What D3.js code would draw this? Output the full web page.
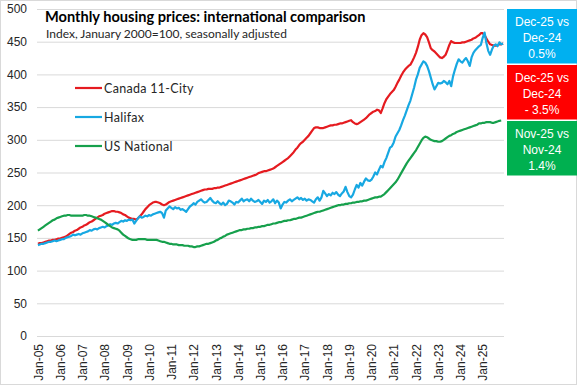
<!DOCTYPE html>
<html lang="en">
<head>
  <meta charset="UTF-8">
  <title>Monthly housing prices</title>
  <script src="https://cdn.jsdelivr.net/npm/d3@7"></script>
  <style>
    body { margin: 0; background: #fff; }
    text { font-family: "Liberation Sans", Arial, sans-serif; }
  </style>
</head>
<body>
<div id="chart"></div>
<script>
  // monthly index values, Jan-05 .. Dec-25 (one row per year)
  var canada = [
    141,142,142,143,144,145,146,146,147,147,148,149,
    149,150,151,152,154,156,158,159,161,162,164,166,
    167,169,170,172,174,175,177,179,181,183,184,185,
    187,188,189,190,191,191,190,190,189,188,186,185,
    183,181,180,179,179,178,180,183,186,190,194,197,
    200,202,204,205,205,204,203,201,200,201,203,205,
    206,207,208,209,210,211,212,213,214,215,216,217,
    218,219,220,221,222,223,224,224,225,225,225,226,
    226,227,227,228,229,230,231,232,233,234,235,236,
    237,238,239,240,241,242,243,244,245,246,247,249,
    250,251,252,252,253,254,255,256,258,260,262,264,
    266,268,270,272,275,278,281,285,288,292,295,297,
    300,303,306,310,314,318,319,319,318,318,318,319,
    320,321,322,322,323,323,324,325,325,326,327,328,
    329,330,327,325,324,325,327,329,331,333,336,339,
    341,343,344,346,345,341,348,356,362,366,370,373,
    376,381,387,392,398,403,407,410,413,415,420,426,
    433,442,453,460,463,461,457,449,440,437,435,432,
    429,426,425,427,430,437,445,451,449,448,448,448,
    448,449,449,450,451,452,453,455,456,458,460,463,
    463,460,455,450,446,445,444,444,445,446,446,447
  ];

  var halifax = [
    139,140,141,141,142,143,144,144,145,146,145,146,
    147,148,148,150,151,152,153,155,154,155,156,155,
    157,158,159,160,162,161,163,164,163,165,166,167,
    166,168,169,171,170,172,173,172,174,176,175,177,
    176,178,177,178,172,176,180,183,181,182,184,183,
    185,184,186,187,188,189,190,188,181,192,195,198,
    196,194,197,195,196,193,194,192,190,194,198,200,
    203,201,205,207,209,206,204,205,208,211,207,204,
    203,206,203,201,204,200,202,207,206,204,201,205,
    204,207,210,206,208,209,206,210,207,205,206,208,
    205,202,207,205,208,204,206,209,203,207,204,195,
    201,205,204,207,209,206,208,210,212,209,211,208,
    210,207,209,208,206,204,209,212,207,212,222,218,
    214,217,215,219,217,220,216,214,218,221,228,220,
    214,212,216,224,231,227,234,230,236,241,238,237,
    239,244,250,247,254,260,258,266,272,280,288,290,
    296,305,310,315,322,330,337,345,353,360,370,380,
    392,400,410,415,420,418,413,405,395,385,377,382,
    387,386,387,390,388,385,390,382,397,407,416,423,
    420,418,422,425,420,413,426,433,437,440,443,445,
    456,464,448,436,430,438,444,446,443,449,446,447
  ];

  // US ends Nov-25
  var usNational = [
    161,163,165,167,169,171,173,175,177,178,180,181,
    182,183,184,184,185,185,184,184,184,184,184,184,
    184,185,185,184,184,183,182,181,180,179,178,176,
    174,172,170,168,166,165,164,163,161,158,155,153,
    151,149,148,147,147,147,148,148,148,148,148,147,
    147,147,147,147,147,146,145,144,144,143,142,141,
    141,140,140,140,139,139,139,138,138,138,137,137,
    136,136,137,137,138,139,140,141,141,142,143,144,
    146,147,149,150,152,153,155,156,157,158,159,160,
    161,162,162,163,163,164,164,165,165,166,166,167,
    167,168,168,169,170,170,171,172,172,173,174,174,
    175,176,176,177,177,178,179,179,180,181,181,182,
    183,184,185,186,187,188,189,190,190,191,192,193,
    194,195,196,197,198,199,200,200,201,201,202,202,
    203,203,204,204,205,205,206,206,207,207,208,209,
    210,211,212,212,213,213,215,217,220,223,226,229,
    232,235,239,244,249,254,259,264,268,272,276,280,
    284,289,294,299,303,305,304,302,300,299,298,298,
    297,297,298,300,302,304,306,307,309,310,312,313,
    314,315,316,317,318,319,320,321,322,323,325,325,
    326,326,327,327,327,326,326,327,328,329,329.5,null
  ];

  var tickLabels = ["Jan-05","Jan-06","Jan-07","Jan-08","Jan-09","Jan-10","Jan-11",
    "Jan-12","Jan-13","Jan-14","Jan-15","Jan-16","Jan-17","Jan-18","Jan-19","Jan-20",
    "Jan-21","Jan-22","Jan-23","Jan-24","Jan-25"];
  var yTicks = [0, 50, 100, 150, 200, 250, 300, 350, 400, 450, 500];

  var seriesNames = ["Canada 11-City", "Halifax", "US National"];
  var seriesColors = ["#e51b20", "#17a8e2", "#16a04c"];

  var boxLines = [
    ["Dec-25 vs", "Dec-24", "0.5%"],
    ["Dec-25 vs", "Dec-24", "- 3.5%"],
    ["Nov-25 vs", "Nov-24", "1.4%"]
  ];
  var boxColors = ["#00b0f0", "#ff0000", "#00b050"];

  var W = 577, H = 385;
  var plot = { left: 37, right: 504, top: 9, bottom: 336 };

  var svg = d3.select("#chart").append("svg")
    .attr("width", W)
    .attr("height", H);

  svg.append("rect")
    .attr("x", 0.5).attr("y", 0.5)
    .attr("width", W - 1).attr("height", H - 1)
    .attr("fill", "#fff")
    .attr("stroke", "#d9d9d9");

  var x = d3.scaleBand()
    .domain(d3.range(canada.length))
    .range([plot.left, plot.right]);
  var xc = function(i) { return x(i) + x.bandwidth() / 2; };

  var y = d3.scaleLinear()
    .domain([0, 500])
    .range([plot.bottom, plot.top]);

  // y axis + gridlines
  var yAxis = svg.append("g")
    .attr("transform", "translate(" + plot.left + ",0)")
    .call(d3.axisLeft(y)
      .tickValues(yTicks)
      .tickSize(-(plot.right - plot.left))
      .tickPadding(10));
  yAxis.select(".domain").remove();
  yAxis.selectAll(".tick line").attr("stroke", "#d9d9d9");
  yAxis.selectAll(".tick text")
    .attr("fill", "#262626")
    .style("font-size", "12px");

  // x axis labels, every January
  var janIdx = tickLabels.map(function(d, i) { return i * 12; });
  var xAxis = svg.append("g")
    .attr("transform", "translate(0," + plot.bottom + ")")
    .call(d3.axisBottom(d3.scalePoint().domain(janIdx).range([xc(0), xc(240)]))
      .tickSize(0)
      .tickFormat(function(d, i) { return tickLabels[i]; }));
  xAxis.select(".domain").remove();
  xAxis.selectAll(".tick text")
    .attr("transform", "rotate(-90)")
    .attr("x", -8)
    .attr("y", 0)
    .attr("dy", "0.35em")
    .attr("text-anchor", "end")
    .attr("fill", "#262626")
    .style("font-size", "12px");

  // lines
  var line = d3.line()
    .defined(function(d) { return d != null; })
    .x(function(d, i) { return xc(i); })
    .y(function(d) { return y(d); });

  [canada, halifax, usNational].forEach(function(s, k) {
    svg.append("path")
      .datum(s)
      .attr("fill", "none")
      .attr("stroke", seriesColors[k])
      .attr("stroke-width", 2.2)
      .attr("stroke-linejoin", "round")
      .attr("d", line);
  });

  // title
  svg.append("text")
    .attr("x", 45).attr("y", 22)
    .style("font-family", "Lato, sans-serif")
    .style("font-weight", "bold")
    .style("font-size", "14.6px")
    .attr("fill", "#000")
    .text("Monthly housing prices: international comparison");
  svg.append("text")
    .attr("x", 46).attr("y", 38)
    .style("font-family", "Lato, sans-serif")
    .style("font-size", "12px")
    .attr("fill", "#262626")
    .text("Index, January 2000=100, seasonally adjusted");

  // legend
  var legend = svg.append("g");
  seriesNames.forEach(function(name, k) {
    var ly = 88 + k * 29;
    legend.append("line")
      .attr("x1", 75).attr("x2", 102)
      .attr("y1", ly).attr("y2", ly)
      .attr("stroke", seriesColors[k])
      .attr("stroke-width", 2.2);
    legend.append("text")
      .attr("x", 104).attr("y", ly + 4.5)
      .style("font-family", "Lato, sans-serif")
      .style("font-size", "12.5px")
      .style("letter-spacing", "0.3px")
      .attr("fill", "#262626")
      .text(name);
  });

  // change boxes on the right
  boxLines.forEach(function(lines, k) {
    var by = 9 + k * 56;
    svg.append("rect")
      .attr("x", 507).attr("y", by)
      .attr("width", 70).attr("height", 54.5)
      .attr("fill", boxColors[k]);
    lines.forEach(function(t, j) {
      svg.append("text")
        .attr("x", 542).attr("y", by + 17 + j * 15.8)
        .attr("text-anchor", "middle")
        .attr("fill", "#fff")
        .style("font-size", "12px")
        .text(t);
    });
  });
</script>
</body>
</html>
